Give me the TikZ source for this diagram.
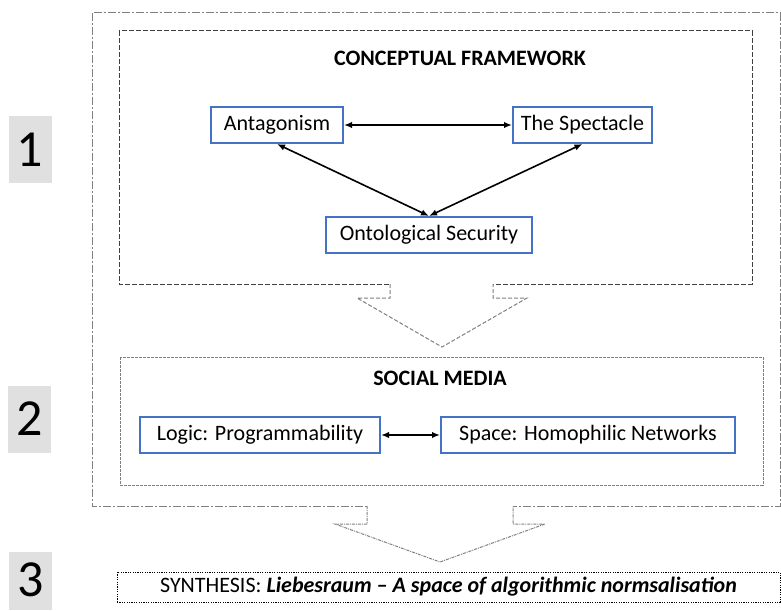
\documentclass[tikz,border=0pt]{standalone}
\usepackage{fontspec}
\setmainfont{Carlito}
\usetikzlibrary{arrows.meta}
\definecolor{boxblue}{HTML}{4472C4}
\definecolor{numgray}{HTML}{E0E0E0}

\begin{document}
\begin{tikzpicture}[x=0.5pt, y=-0.5pt,
    concept/.style={rectangle, draw=boxblue, line width=1pt, fill=white, minimum height=18pt, inner sep=0pt, font=\fontsize{11}{13}\selectfont},
    heading/.style={font=\fontsize{11}{13}\selectfont\bfseries},
    stagenum/.style={inner sep=0pt, font=\fontsize{26}{30}\selectfont},
    stage/.style={stagenum, rectangle, fill=numgray, minimum width=21.5pt, minimum height=33.5pt},
    synth/.style={rectangle, draw, line width=0.5pt, dash pattern=on 0.6pt off 0.6pt, minimum width=331.5pt, minimum height=15pt, inner sep=0pt, font=\fontsize{11}{13}\selectfont},
    chevron/.style={gray, line width=0.5pt},
    link/.style={{Latex[length=4pt,width=3.2pt]}-{Latex[length=4pt,width=3.2pt]}, line width=0.8pt}]

    \useasboundingbox (0,0) rectangle (781,610);

    % stage numbers
    \node[stage] (one) at (30,149.5) {1};
    \node[stage] (two) at (29.5,419) {2};
    \node[stage, minimum height=29pt] (three) at (30.5,581) {};
    \node[stagenum] (threenum) at (30.5,580) {3};

    % frames
    \draw[gray, line width=0.5pt, dash pattern=on 4pt off 1pt on 1pt off 1pt] (92,13) rectangle (780,506);
    \draw[black!75, line width=0.5pt, dash pattern=on 2.5pt off 1pt] (119,31) rectangle (752,284);
    \draw[gray, line width=0.5pt, dash pattern=on 1.5pt off 0.5pt] (120,357) rectangle (763,485);

    % block arrows between the stages
    \fill[white] (390,280) -- (390,298) -- (357,298) -- (442,347) -- (527,298) -- (493,298) -- (493,280) -- cycle;
    \draw[chevron, dash pattern=on 2pt off 1pt] (390,284) -- (390,298) -- (357,298) -- (442,347) -- (527,298) -- (493,298) -- (493,284);
    \fill[white] (367,502) -- (367,524) -- (335,524) -- (440,562) -- (545,524) -- (513,524) -- (513,502) -- cycle;
    \draw[chevron, dash pattern=on 1.5pt off 0.5pt on 0.5pt off 0.5pt] (367,506) -- (367,524) -- (335,524) -- (440,562) -- (545,524) -- (513,524) -- (513,506);

    % titles
    \node[heading] (cftitle) at (460,58) {CONCEPTUAL FRAMEWORK};
    \node[heading] (smtitle) at (440,378) {SOCIAL MEDIA};

    % concepts
    \node[concept, minimum width=66pt] (antag) at (277,125) {Antagonism};
    \node[concept, minimum width=69.5pt] (spect) at (582.5,125) {The Spectacle};
    \node[concept, minimum width=103pt] (onto) at (429,235) {Ontological Security};
    \node[concept, minimum width=120pt] (logic) at (260,435) {Logic: Programmability};
    \node[concept, minimum width=147pt] (space) at (588,435) {Space: Homophilic Networks};

    \node[synth] (synthesis) at (448.5,587) {SYNTHESIS: \textbf{\textit{Liebesraum – A space of algorithmic normsalisation}}};

    \draw[link] (antag) -- (spect);
    \draw[link] (antag.south) -- (onto.north);
    \draw[link] (spect.south) -- (onto.north);
    \draw[link] (logic) -- (space);
\end{tikzpicture}
\end{document}
